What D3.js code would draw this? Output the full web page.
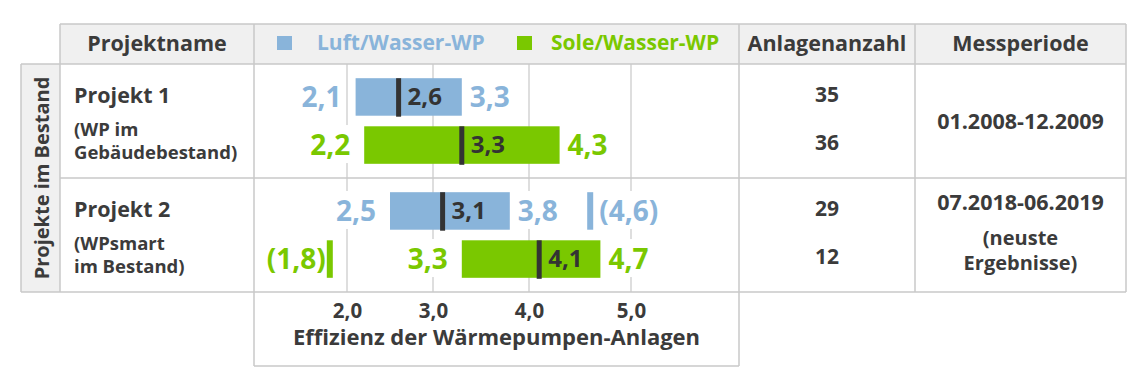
<!DOCTYPE html>
<html>
<head>
<meta charset="utf-8">
<script src="https://cdn.jsdelivr.net/npm/d3@7"></script>
<style>
  body { margin: 0; background: #fff; }
  svg text { font-family: "Open Sans", sans-serif; font-weight: 700; }
</style>
</head>
<body>
<div id="app"></div>
<script>
// Data
const projects = ["Projekt 1", "Projekt 2"];
const projectNotes = [["(WP im", "Gebäudebestand)"], ["(WPsmart", "im Bestand)"]];
const seriesNames = ["Luft/Wasser-WP", "Sole/Wasser-WP"];
const rowProject = [0, 0, 1, 1];
const rowSeries = [0, 1, 0, 1];
const minValues = [2.1, 2.2, 2.5, 3.3];
const medianValues = [2.6, 3.3, 3.1, 4.1];
const maxValues = [3.3, 4.3, 3.8, 4.7];
const outlierValues = [null, null, 4.6, 1.8];
const plantCounts = [35, 36, 29, 12];
const periods = [["01.2008-12.2009"], ["07.2018-06.2019", "(neuste", "Ergebnisse)"]];
const xTicks = [2, 3, 4, 5];
const headers = ["Projektname", "Anlagenanzahl", "Messperiode"];
const sideLabel = "Projekte im Bestand";
const axisTitle = "Effizienz der Wärmepumpen-Anlagen";

// Layout
const width = 1148, height = 384;
const col = { side: 21, name: 60, chart: 254, count: 739, period: 915, end: 1126 };
const rowY = { head: 24, body: 64, bottom: 292, axis: 366 };
const tickPx = [347, 433, 529, 631]; // the original scale is hand drawn, not quite linear
const colors = ["#89b4da", "#7ac800"];
const ink = "#3b3b3b", lineColor = "#c8c8c8", headFill = "#f0f0f0";

const de = d3.formatLocale({ decimal: ",", thousands: ".", grouping: [3], currency: ["", " €"] });
const fmt = de.format(".1f");

const x = d3.scaleLinear().domain(xTicks).range(tickPx);
const yProject = d3.scaleBand().domain(d3.range(projects.length)).range([rowY.body, rowY.bottom]);
const ySeries = d3.scaleBand()
  .domain(d3.range(seriesNames.length))
  .range([0, yProject.bandwidth()])
  .paddingInner(0.22)
  .paddingOuter(0.295);
const rowTop = (i) => yProject(rowProject[i]) + ySeries(rowSeries[i]);
const rowMid = (i) => rowTop(i) + ySeries.bandwidth() / 2;

const svg = d3.select("#app").append("svg").attr("width", width).attr("height", height);

// Backgrounds
svg.append("rect")
  .attr("x", col.name).attr("y", rowY.head)
  .attr("width", col.end - col.name).attr("height", rowY.body - rowY.head)
  .attr("fill", headFill);
svg.append("rect")
  .attr("x", col.side).attr("y", rowY.body)
  .attr("width", col.name - col.side).attr("height", rowY.bottom - rowY.body)
  .attr("fill", headFill);

// Gridlines
svg.append("g")
  .selectAll("line")
  .data(xTicks)
  .join("line")
  .attr("x1", (d) => x(d)).attr("x2", (d) => x(d))
  .attr("y1", rowY.body).attr("y2", rowY.bottom)
  .attr("stroke", lineColor).attr("stroke-width", 1.2);

// Table borders
const hLines = [
  [col.name, col.end, rowY.head],
  [col.side, col.end, rowY.body],
  [col.name, col.end, yProject(1)],
  [col.side, col.end, rowY.bottom],
  [col.chart, col.count, rowY.axis]
];
const vLines = [
  [col.side, rowY.body, rowY.bottom],
  [col.name, rowY.head, rowY.bottom],
  [col.chart, rowY.head, rowY.axis],
  [col.count, rowY.head, rowY.axis],
  [col.period, rowY.head, rowY.bottom],
  [col.end, rowY.head, rowY.bottom]
];
const borders = svg.append("g").attr("stroke", lineColor).attr("stroke-width", 1.5);
hLines.forEach(([a, b, y]) => borders.append("line").attr("x1", a).attr("x2", b).attr("y1", y).attr("y2", y));
vLines.forEach(([xx, a, b]) => borders.append("line").attr("x1", xx).attr("x2", xx).attr("y1", a).attr("y2", b));

// text helper, optional white box behind it
function label(g, text, px, py, anchor, size, color, boxed) {
  const gg = g.append("g");
  const t = gg.append("text")
    .attr("x", px).attr("y", py)
    .attr("text-anchor", anchor)
    .attr("font-size", size)
    .attr("fill", color)
    .text(text);
  if (boxed) {
    const b = t.node().getBBox();
    gg.insert("rect", "text")
      .attr("x", b.x - 4).attr("y", b.y)
      .attr("width", b.width + 8).attr("height", b.height)
      .attr("fill", "#fff");
  }
  return t;
}

// Header
const head = svg.append("g");
label(head, headers[0], (col.name + col.chart) / 2, 51, "middle", 21.5, ink);
label(head, headers[1], (col.count + col.period) / 2, 51, "middle", 21.5, ink);
label(head, headers[2], (col.period + col.end) / 2, 51, "middle", 21.5, ink);
const legendX = [277, 517];
const legendTextX = [317, 551];
seriesNames.forEach((s, i) => {
  head.append("rect")
    .attr("x", legendX[i]).attr("y", 36)
    .attr("width", 15).attr("height", 14)
    .attr("fill", colors[i]);
  label(head, s, legendTextX[i], 50, "start", 21, colors[i]);
});

// Side label
svg.append("text")
  .attr("transform", `translate(${(col.side + col.name) / 2 + 8},${(rowY.body + rowY.bottom) / 2}) rotate(-90)`)
  .attr("text-anchor", "middle")
  .attr("font-size", 20)
  .attr("fill", ink)
  .text(sideLabel);

// Project names
const names = svg.append("g");
projects.forEach((p, i) => {
  const top = yProject(i);
  label(names, p, 74, top + 39, "start", 21.5, ink);
  projectNotes[i].forEach((n, j) => label(names, n, 74, top + 72 + j * 23, "start", 18.5, ink));
});

// Counts & periods
const info = svg.append("g");
plantCounts.forEach((c, i) => label(info, c, (col.count + col.period) / 2, rowMid(i) + 5, "middle", 21, ink));
periods.forEach((lines, i) => {
  const top = yProject(i);
  const cx = (col.period + col.end) / 2;
  if (lines.length === 1) {
    label(info, lines[0], cx, top + yProject.bandwidth() / 2 + 8, "middle", 21.5, ink);
  } else {
    lines.forEach((l, j) => label(info, l, cx, top + (j === 0 ? 32 : 42 + 25 * j), "middle", j === 0 ? 21.5 : 20, ink));
  }
});

// Outer value labels (with white boxes over gridlines)
const outer = svg.append("g");
minValues.forEach((v, i) => {
  const c = colors[rowSeries[i]];
  const y = rowMid(i) + 10;
  label(outer, fmt(v), x(v) - 14, y, "end", 28, c, true);
  label(outer, fmt(maxValues[i]), x(maxValues[i]) + 8, y, "start", 28, c, true);
  const o = outlierValues[i];
  if (o != null) {
    if (o > maxValues[i]) label(outer, `(${fmt(o)})`, x(o) + 9, y, "start", 28, c, true);
    else label(outer, `(${fmt(o)})`, x(o) - 4, y, "end", 28, c, true);
  }
});

// Boxes: min..max range
const bars = svg.append("g");
bars.selectAll("rect.range")
  .data(d3.range(minValues.length))
  .join("rect")
  .attr("class", "range")
  .attr("x", (i) => x(minValues[i]))
  .attr("y", (i) => rowTop(i))
  .attr("width", (i) => x(maxValues[i]) - x(minValues[i]))
  .attr("height", ySeries.bandwidth())
  .attr("fill", (i) => colors[rowSeries[i]]);

// Outliers
bars.selectAll("rect.outlier")
  .data(d3.range(outlierValues.length).filter((i) => outlierValues[i] != null))
  .join("rect")
  .attr("class", "outlier")
  .attr("x", (i) => x(outlierValues[i]) - 3)
  .attr("y", (i) => rowTop(i))
  .attr("width", 6)
  .attr("height", ySeries.bandwidth())
  .attr("fill", (i) => colors[rowSeries[i]]);

// Medians
bars.selectAll("rect.median")
  .data(d3.range(medianValues.length))
  .join("rect")
  .attr("class", "median")
  .attr("x", (i) => x(medianValues[i]) - 2.5)
  .attr("y", (i) => rowTop(i))
  .attr("width", 5)
  .attr("height", ySeries.bandwidth() + 1)
  .attr("fill", "#333");
medianValues.forEach((v, i) => label(bars, fmt(v), x(v) + 9, rowMid(i) + 8, "start", 24, "#333"));

// Axis
const axis = svg.append("g")
  .attr("transform", `translate(0,${rowY.bottom})`)
  .call(d3.axisBottom(x).tickValues(xTicks).tickFormat(fmt).tickSize(0).tickPadding(11));
axis.select(".domain").remove();
axis.selectAll("text")
  .attr("font-size", 20.5)
  .attr("font-family", "Open Sans, sans-serif")
  .attr("font-weight", 700)
  .attr("fill", ink);

label(svg, axisTitle, (col.chart + col.count) / 2, 345, "middle", 22, ink);
</script>
</body>
</html>
